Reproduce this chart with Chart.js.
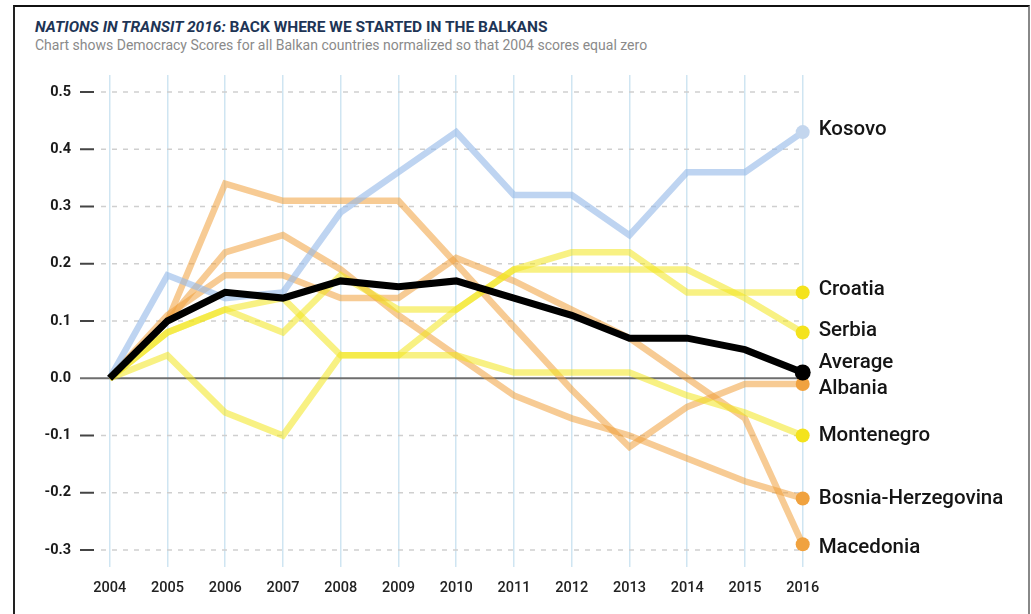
<!DOCTYPE html>
<html>
<head>
<meta charset="utf-8">
<script src="https://cdn.jsdelivr.net/npm/chart.js@4.4.1/dist/chart.umd.min.js"></script>
<style>
  html, body { margin: 0; padding: 0; background: #fff; }
  #wrap { position: relative; width: 1031px; height: 614px; overflow: hidden; }
  #frame { position: absolute; left: 13px; top: 5px; width: 1013px; height: 640px;
           border-top: 2px solid #111; border-left: 2px solid #222; border-right: 2px solid #888; }
  #title { position: absolute; left: 35px; top: 18px; font: 700 15.5px Roboto, sans-serif;
           color: #1e3556; white-space: nowrap; }
  #sub { position: absolute; left: 35px; top: 37px; font: 400 14px Roboto, sans-serif;
         color: #8a8a8a; white-space: nowrap; }
  canvas { position: absolute; left: 0; top: 0; }
</style>
</head>
<body>
<div id="wrap">
  <div id="frame"></div>
  <div id="title"><i>NATIONS IN TRANSIT 2016:</i> BACK WHERE WE STARTED IN THE BALKANS</div>
  <div id="sub">Chart shows Democracy Scores for all Balkan countries normalized so that 2004 scores equal zero</div>
  <canvas id="grafico" width="1031" height="614"></canvas>
</div>
<script>
// datos
const years = [2004, 2005, 2006, 2007, 2008, 2009, 2010, 2011, 2012, 2013, 2014, 2015, 2016];
const yTicks = [-0.3, -0.2, -0.1, 0, 0.1, 0.2, 0.3, 0.4, 0.5];

const average    = [0, 0.10, 0.15, 0.14, 0.17, 0.16, 0.17, 0.14, 0.11, 0.07, 0.07, 0.05, 0.01];
const kosovo     = [0, 0.18, 0.14, 0.15, 0.29, 0.36, 0.43, 0.32, 0.32, 0.25, 0.36, 0.36, 0.43];
const croatia    = [0, 0.08, 0.12, 0.14, 0.04, 0.04, 0.12, 0.19, 0.22, 0.22, 0.15, 0.15, 0.15];
const serbia     = [0, 0.08, 0.12, 0.08, 0.18, 0.12, 0.12, 0.19, 0.19, 0.19, 0.19, 0.14, 0.08];
const montenegro = [0, 0.04, -0.06, -0.10, 0.04, 0.04, 0.04, 0.01, 0.01, 0.01, -0.03, -0.06, -0.10];
const albania    = [0, 0.10, 0.34, 0.31, 0.31, 0.31, 0.20, 0.09, -0.02, -0.12, -0.05, -0.01, -0.01];
const bosnia     = [0, 0.10, 0.22, 0.25, 0.19, 0.11, 0.04, -0.03, -0.07, -0.10, -0.14, -0.18, -0.21];
const macedonia  = [0, 0.11, 0.18, 0.18, 0.14, 0.14, 0.21, 0.17, 0.12, 0.07, 0.00, -0.07, -0.29];

const BLUE = 'rgba(150,186,232,0.62)', BLUE_DOT = '#c3d6ee';
const YEL = 'rgba(242,230,30,0.55)', YEL_DOT = '#f4e31c';
const ORA = 'rgba(240,160,60,0.55)', ORA_DOT = '#f0a23f';

// desplazamiento vertical de cada etiqueta (px)
const labelShift = { 'Average': -10, 'Albania': 5, 'Kosovo': -2, 'Croatia': -3, 'Serbia': -2,
                     'Montenegro': 0, 'Bosnia-Herzegovina': 0, 'Macedonia': 4 };

function serie(nombre, valores, linea, punto, radio, ancho) {
    return {
        label: nombre,
        data: valores.map((v, i) => ({ x: years[i], y: v })),
        borderColor: linea,
        borderWidth: ancho,
        backgroundColor: punto,
        pointBackgroundColor: punto,
        pointBorderWidth: 0,
        pointRadius: c => c.dataIndex === years.length - 1 ? radio : 0,
        tension: 0,
        clip: false
    };
}

const datasets = [
    serie('Average', average, '#000', '#000', 8, 7),
    serie('Kosovo', kosovo, BLUE, BLUE_DOT, 7, 6.5),
    serie('Croatia', croatia, YEL, YEL_DOT, 7, 6.5),
    serie('Serbia', serbia, YEL, YEL_DOT, 7, 6.5),
    serie('Montenegro', montenegro, YEL, YEL_DOT, 7, 6.5),
    serie('Albania', albania, ORA, ORA_DOT, 7, 6.5),
    serie('Bosnia-Herzegovina', bosnia, ORA, ORA_DOT, 7, 6.5),
    serie('Macedonia', macedonia, ORA, ORA_DOT, 7, 6.5)
];

const lineasY = {
    id: 'lineasY',
    beforeDatasetsDraw(chart) {
        const { ctx, chartArea, scales } = chart;
        ctx.save();
        yTicks.forEach(v => {
            const y = scales.y.getPixelForValue(v);
            if (v === 0) {
                ctx.strokeStyle = '#6e6e6e';
                ctx.lineWidth = 2;
                ctx.setLineDash([]);
                ctx.beginPath(); ctx.moveTo(80, y); ctx.lineTo(chartArea.right, y); ctx.stroke();
                return;
            }
            ctx.strokeStyle = '#444';
            ctx.lineWidth = 2;
            ctx.setLineDash([]);
            ctx.beginPath(); ctx.moveTo(80, y); ctx.lineTo(94, y); ctx.stroke();
            ctx.strokeStyle = '#cfcfcf';
            ctx.lineWidth = 1.5;
            ctx.setLineDash([5, 6]);
            ctx.beginPath(); ctx.moveTo(chartArea.left, y); ctx.lineTo(chartArea.right, y); ctx.stroke();
        });
        ctx.restore();
    }
};

const etiquetas = {
    id: 'etiquetas',
    afterDatasetsDraw(chart) {
        const ctx = chart.ctx;
        ctx.save();
        ctx.font = '500 20.5px Roboto, sans-serif';
        ctx.fillStyle = '#151515';
        ctx.textBaseline = 'middle';
        chart.data.datasets.forEach((ds, i) => {
            const meta = chart.getDatasetMeta(i);
            const p = meta.data[meta.data.length - 1];
            ctx.fillText(ds.label, p.x + 16, p.y + (labelShift[ds.label] || 0));
        });
        ctx.restore();
    }
};

const fuenteX = { family: 'Roboto, sans-serif', size: 14.5, weight: '500' };
const fuenteY = { family: 'Roboto, sans-serif', size: 14.5, weight: '700' };

new Chart(document.getElementById('grafico').getContext('2d'), {
    type: 'line',
    data: { datasets: datasets },
    options: {
        responsive: false,
        animation: false,
        layout: { padding: { top: 75, right: 226, left: 0, bottom: 0 } },
        plugins: { legend: { display: false }, tooltip: { enabled: false } },
        scales: {
            x: {
                type: 'linear',
                min: 2003.85,
                max: 2016.04,
                afterBuildTicks: s => { s.ticks = years.map(v => ({ value: v })); },
                afterFit: s => { s.height = 47; },
                grid: { color: '#cfe5f2', lineWidth: 1.5, drawTicks: false },
                border: { display: false },
                ticks: { padding: 13, color: '#222', font: fuenteX, autoSkip: false, maxRotation: 0,
                         callback: v => String(v) }
            },
            y: {
                min: -0.3297,
                max: 0.5297,
                afterBuildTicks: s => { s.ticks = yTicks.map(v => ({ value: v })); },
                afterFit: s => { s.width = 101; },
                grid: { display: false },
                border: { display: false },
                ticks: { padding: 22, color: '#1a1a1a', font: fuenteY,
                         callback: v => v.toFixed(1) }
            }
        }
    },
    plugins: [lineasY, etiquetas]
});
</script>
</body>
</html>
